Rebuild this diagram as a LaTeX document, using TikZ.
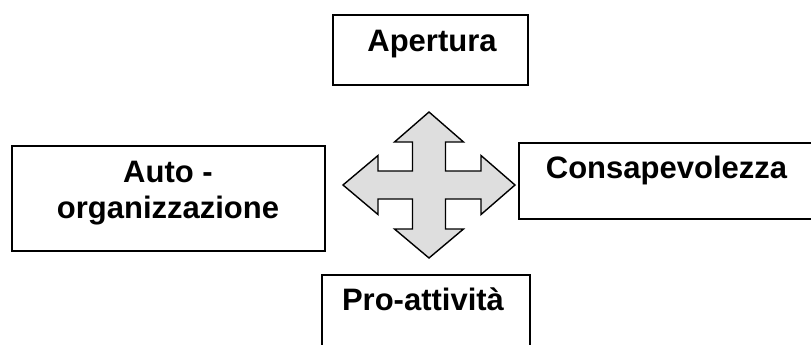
\documentclass[tikz,border=0pt]{standalone}
\usepackage{fontspec}
\setmainfont{Liberation Sans}
\begin{document}
\begin{tikzpicture}[x=1pt,y=-1pt,
  box/.style={draw=black,line width=1.4pt,rectangle,inner sep=0pt,outer sep=0pt},
  lbl/.style={font=\fontsize{31}{36}\selectfont\bfseries,anchor=base,inner sep=0pt},
  cross/.style={draw=black,line width=1.4pt,fill=black!13,line join=miter}]
\useasboundingbox (0,0) rectangle (811,345);
\clip (0,0) rectangle (811,345);
% boxes
\node[box,minimum width=195pt,minimum height=70pt] (ap) at (430.5,50) {};
\node[box,minimum width=313pt,minimum height=105pt] (au) at (168.5,198.5) {};
\node[box,minimum width=311pt,minimum height=76pt] (co) at (674.5,181) {};
\node[box,minimum width=208pt,minimum height=90pt] (pr) at (426,320) {};
% texts
\node[lbl] (tap) at (432,52) {Apertura};
\node[lbl] (tau1) at (168,182) {Auto -};
\node[lbl] (tau2) at (168,218) {organizzazione};
\node[lbl] (tco) at (666.5,178) {Consapevolezza};
\node[lbl] (tpr) at (423,310) {Pro-attività};
% four-way arrow
\draw[cross] (429,112) -- (463.5,142) -- (445.5,142) -- (445.5,171) -- (481,171)
  -- (481,155.5) -- (515,185) -- (481,214.5) -- (481,199) -- (445.5,199)
  -- (445.5,229) -- (463.5,229) -- (429,258) -- (394.5,229) -- (412.5,229)
  -- (412.5,199) -- (378,199) -- (378,214.5) -- (343,185) -- (378,155.5)
  -- (378,171) -- (412.5,171) -- (412.5,142) -- (394.5,142) -- cycle;
\end{tikzpicture}
\end{document}
